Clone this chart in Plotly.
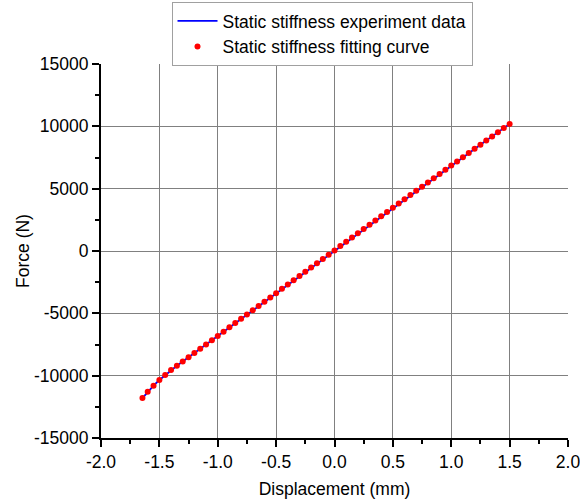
import plotly.graph_objects as go

# Displacement (mm) and force (N)
disp = [-1.645, -1.60, -1.55, -1.50, -1.45, -1.40, -1.35, -1.30, -1.25, -1.20,
        -1.15, -1.10, -1.05, -1.00, -0.95, -0.90, -0.85, -0.80, -0.75, -0.70,
        -0.65, -0.60, -0.55, -0.50, -0.45, -0.40, -0.35, -0.30, -0.25, -0.20,
        -0.15, -0.10, -0.05, 0.00, 0.05, 0.10, 0.15, 0.20, 0.25, 0.30,
        0.35, 0.40, 0.45, 0.50, 0.55, 0.60, 0.65, 0.70, 0.75, 0.80,
        0.85, 0.90, 0.95, 1.00, 1.05, 1.10, 1.15, 1.20, 1.25, 1.30,
        1.35, 1.40, 1.45, 1.50]
force_exp = [-11800, -11300, -10800, -10350, -9950, -9544, -9203, -8862, -8520, -8179,
             -7837, -7495, -7152, -6810, -6468, -6125, -5782, -5439, -5096, -4753,
             -4410, -4067, -3723, -3380, -3037, -2694, -2350, -2007, -1664, -1321,
             -978, -635, -293, 50, 392, 735, 1077, 1419, 1760, 2102,
             2443, 2784, 3125, 3465, 3805, 4145, 4484, 4823, 5162, 5501,
             5839, 6176, 6513, 6850, 7186, 7522, 7857, 8192, 8527, 8860,
             9194, 9526, 9858, 10190]
force_fit = list(force_exp)

x_ticks = [-2.0, -1.5, -1.0, -0.5, 0.0, 0.5, 1.0, 1.5, 2.0]
x_tick_labels = ["-2.0", "-1.5", "-1.0", "-0.5", "0.0", "0.5", "1.0", "1.5", "2.0"]
y_ticks = [-15000, -10000, -5000, 0, 5000, 10000, 15000]
y_tick_labels = ["-15000", "-10000", "-5000", "0", "5000", "10000", "15000"]
x_grid = x_ticks[1:-1]
y_grid = y_ticks[1:-1]

FONT = "Liberation Sans, Arial, sans-serif"
FS = 17.5

fig = go.Figure()
fig.add_trace(go.Scatter(
    x=disp, y=force_exp, mode="lines", name="Static stiffness experiment data",
    line=dict(color="#0000ff", width=1.8)))
fig.add_trace(go.Scatter(
    x=disp, y=force_fit, mode="markers", name="Static stiffness fitting curve",
    marker=dict(color="#ff0000", size=6, line=dict(width=0))))

axis_common = dict(showline=True, linecolor="black", linewidth=2,
                   ticks="outside", ticklen=7, tickwidth=2, tickcolor="black",
                   showgrid=False, zeroline=False, tickfont=dict(size=FS),
                   ticklabeloverflow="allow")
grid_common = dict(showgrid=True, gridcolor="#808080", gridwidth=1,
                   showticklabels=False, ticks="", showline=False, zeroline=False)

fig.update_layout(
    width=580, height=504,
    margin=dict(l=101, r=12, t=64, b=66, autoexpand=False),
    paper_bgcolor="white", plot_bgcolor="white",
    font=dict(family=FONT, size=FS, color="black"),
    showlegend=True,
    legend=dict(x=0.151, y=1.166, xanchor="left", yanchor="top",
                bgcolor="white", bordercolor="#a0a0a0", borderwidth=1,
                font=dict(size=FS), tracegroupgap=0, itemwidth=40),
    xaxis=dict(range=[-2.0, 2.0], tickvals=x_ticks, ticktext=x_tick_labels,
               minor=dict(ticks="outside", ticklen=4, tickwidth=2, tickcolor="black",
                          dtick=0.25, showgrid=False),
               title=dict(text="Displacement (mm)", font=dict(size=FS), standoff=12),
               **axis_common),
    yaxis=dict(range=[-15000, 15000], tickvals=y_ticks, ticktext=y_tick_labels,
               minor=dict(ticks="outside", ticklen=4, tickwidth=2, tickcolor="black",
                          dtick=2500, showgrid=False),
               title=dict(text="Force (N)", font=dict(size=FS), standoff=0),
               **axis_common),
    xaxis2=dict(range=[-2.0, 2.0], tickvals=x_grid, overlaying="x", anchor="y",
                layer="below traces", **grid_common),
    yaxis2=dict(range=[-15000, 15000], tickvals=y_grid, overlaying="y", anchor="x",
                layer="below traces", **grid_common),
)
# invisible helper trace so the grid axes are drawn
fig.add_trace(go.Scatter(x=[disp[0]], y=[force_exp[0]], xaxis="x2", yaxis="y2",
                         mode="markers", marker=dict(opacity=0), showlegend=False,
                         hoverinfo="skip"))

fig.write_html("out.html")
